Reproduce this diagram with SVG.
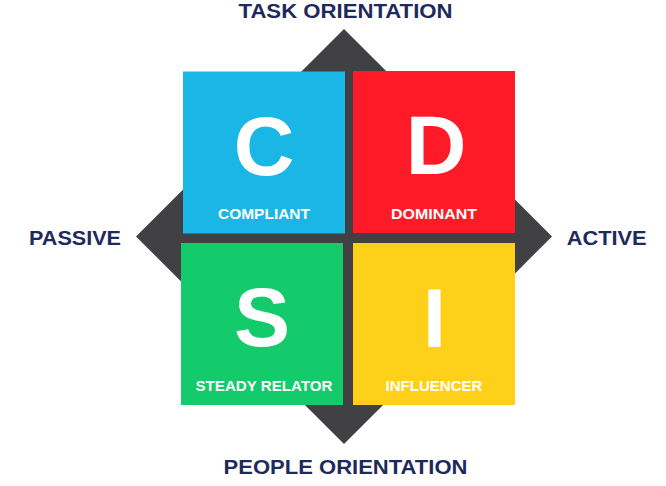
<svg xmlns="http://www.w3.org/2000/svg" width="666" height="486" viewBox="0 0 666 486">
<style>
.axis{font-family:"Liberation Sans",Arial,sans-serif;font-weight:bold;font-size:20.5px;fill:#1F2A5C;text-anchor:middle}
.big{font-family:"Liberation Sans",Arial,sans-serif;font-weight:bold;font-size:84px;fill:#FFFFFF;text-anchor:middle}
.lbl{font-family:"Liberation Sans",Arial,sans-serif;font-weight:bold;font-size:15px;fill:#FFFFFF;text-anchor:middle}
</style>
<rect width="666" height="486" fill="#FFFFFF"/>
<g id="connectors">
<polygon points="344,29 552,236.5 344,444 136,236.5" fill="#414042"/>
</g>
<g id="node-c">
<rect x="183" y="71.5" width="162" height="162" fill="#1AB7E6"/>
<text class="big" x="264" y="174.5">C</text>
<text class="lbl" x="264" y="219.3" textLength="92" lengthAdjust="spacingAndGlyphs">COMPLIANT</text>
</g>
<g id="node-d">
<rect x="353" y="71" width="162" height="162" fill="#FF1A27"/>
<text class="big" x="436" y="173.5">D</text>
<text class="lbl" x="434" y="219.3" textLength="86" lengthAdjust="spacingAndGlyphs">DOMINANT</text>
</g>
<g id="node-s">
<rect x="181" y="243" width="162" height="162" fill="#13CB6B"/>
<text class="big" x="262" y="346">S</text>
<text class="lbl" x="264" y="390.7" textLength="137" lengthAdjust="spacingAndGlyphs">STEADY RELATOR</text>
</g>
<g id="node-i">
<rect x="353" y="243" width="162" height="162" fill="#FFD01A"/>
<text class="big" x="434.3" y="346.5">I</text>
<text class="lbl" x="434" y="390.7" textLength="97" lengthAdjust="spacingAndGlyphs">INFLUENCER</text>
</g>
<g id="labels">
<text class="axis" x="345.5" y="18" style="font-size:19.5px" textLength="214" lengthAdjust="spacingAndGlyphs">TASK ORIENTATION</text>
<text class="axis" x="345.5" y="474.3" textLength="244" lengthAdjust="spacingAndGlyphs">PEOPLE ORIENTATION</text>
<text class="axis" x="75" y="244.7" textLength="92" lengthAdjust="spacingAndGlyphs">PASSIVE</text>
<text class="axis" x="606.7" y="244.7" textLength="80" lengthAdjust="spacingAndGlyphs">ACTIVE</text>
</g>
</svg>
